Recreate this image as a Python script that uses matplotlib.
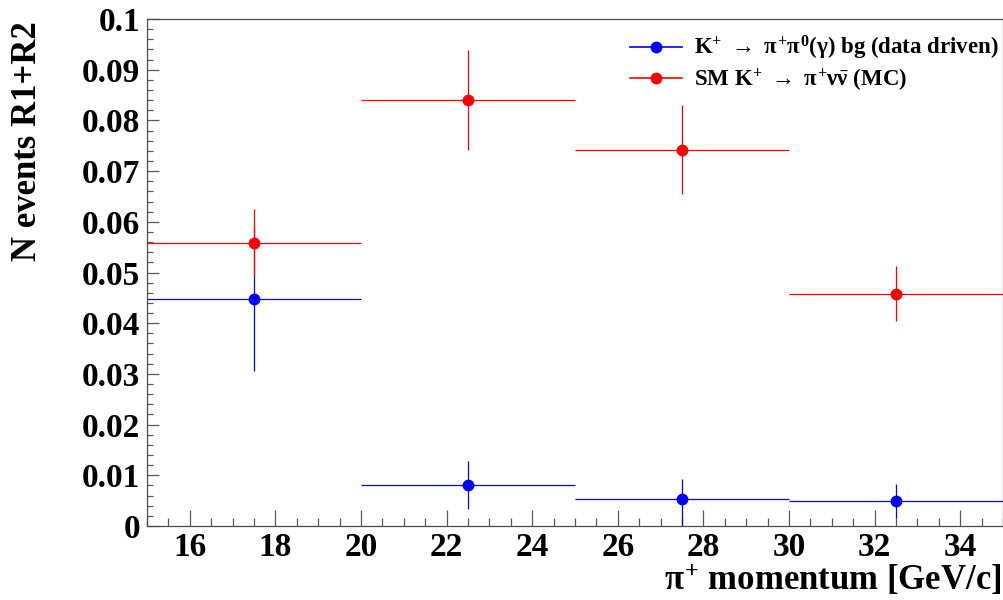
import numpy as np
import matplotlib
matplotlib.use("Agg")
from matplotlib import pyplot as plt
from matplotlib.lines import Line2D
from matplotlib.ticker import MultipleLocator, FuncFormatter

# pi+ momentum bins [GeV/c]
bin_centers = [17.5, 22.5, 27.5, 32.5]
bin_half_width = [2.5, 2.5, 2.5, 2.5]

# K+ -> pi+ pi0 (gamma) background (data driven)
bg_values = [0.0448, 0.0081, 0.0054, 0.0049]
bg_err_low = [0.0142, 0.0048, 0.0054, 0.0034]
bg_err_high = [0.0142, 0.0048, 0.0039, 0.0034]

# SM K+ -> pi+ nu nubar (MC)
sm_values = [0.0559, 0.0840, 0.0742, 0.0458]
sm_errors = [0.0067, 0.0099, 0.0088, 0.0054]

bg_label = r"K$^{+}$ $\rightarrow$ $\pi^{+}\pi^{0}(\gamma)$ bg (data driven)"
sm_label = r"SM K$^{+}$ $\rightarrow$ $\pi^{+}\nu\bar{\nu}$ (MC)"

plt.rcParams["font.family"] = ["Liberation Serif", "DejaVu Serif"]
plt.rcParams["font.weight"] = "bold"
plt.rcParams["mathtext.fontset"] = "custom"
plt.rcParams["mathtext.rm"] = "Liberation Serif:bold"
plt.rcParams["mathtext.it"] = "Liberation Serif:bold"
plt.rcParams["mathtext.bf"] = "Liberation Serif:bold"

fig = plt.figure(figsize=(10.04, 6.0), dpi=100)
ax = fig.add_axes([147 / 1004, 1 - 526 / 600, 856 / 1004, 507 / 600])

ax.errorbar(bin_centers, bg_values, xerr=bin_half_width, yerr=[bg_err_low, bg_err_high],
            fmt="o", color="#0000ff", ms=7.5, elinewidth=0.9, capsize=0)
ax.errorbar(bin_centers, sm_values, xerr=bin_half_width, yerr=sm_errors,
            fmt="o", color="#ff0000", ms=7.5, elinewidth=0.9, capsize=0)

ax.set_xlim(15, 35)
ax.set_ylim(0, 0.1)

ax.xaxis.set_major_locator(MultipleLocator(2))
ax.xaxis.set_minor_locator(MultipleLocator(0.5))
ax.yaxis.set_major_locator(MultipleLocator(0.01))
ax.yaxis.set_minor_locator(MultipleLocator(0.002))
ax.yaxis.set_major_formatter(FuncFormatter(lambda v, p: "%g" % round(v, 3)))

ax.tick_params(axis="x", which="major", direction="in", length=11.5, width=0.9,
               color="0.35", labelsize=24, pad=4)
ax.tick_params(axis="x", which="minor", direction="in", length=5.8, width=0.9, color="0.35")
ax.tick_params(axis="y", which="major", direction="in", length=8.5, width=0.9,
               color="0.35", labelsize=24, pad=5)
ax.tick_params(axis="y", which="minor", direction="in", length=4.3, width=0.9, color="0.35")
for lbl in ax.get_xticklabels() + ax.get_yticklabels():
    lbl.set_fontweight("bold")

for sp in ax.spines.values():
    sp.set_color("0.3")
    sp.set_linewidth(0.9)

fig.text(28 / 1004, 1 - 21 / 600, "N events R1+R2", rotation=90, ha="center", va="top",
         fontsize=25, fontweight="bold")
fig.text(1002 / 1004, 1 - 580 / 600, r"$\pi^{+}$ momentum [GeV/c]", ha="right", va="center",
         fontsize=25, fontweight="bold")

handles = [
    Line2D([], [], color="#0000ff", marker="o", ms=7.5, lw=1.2),
    Line2D([], [], color="#ff0000", marker="o", ms=7.5, lw=1.2),
]
ax.legend(handles, [bg_label, sm_label], loc="upper right", bbox_to_anchor=(1.011, 0.997),
          frameon=False, prop={"size": 16.5, "weight": "bold"}, handlelength=2.3,
          handletextpad=0.5, labelspacing=0.18, borderaxespad=0.2)

fig.savefig("out.png", dpi=100)
